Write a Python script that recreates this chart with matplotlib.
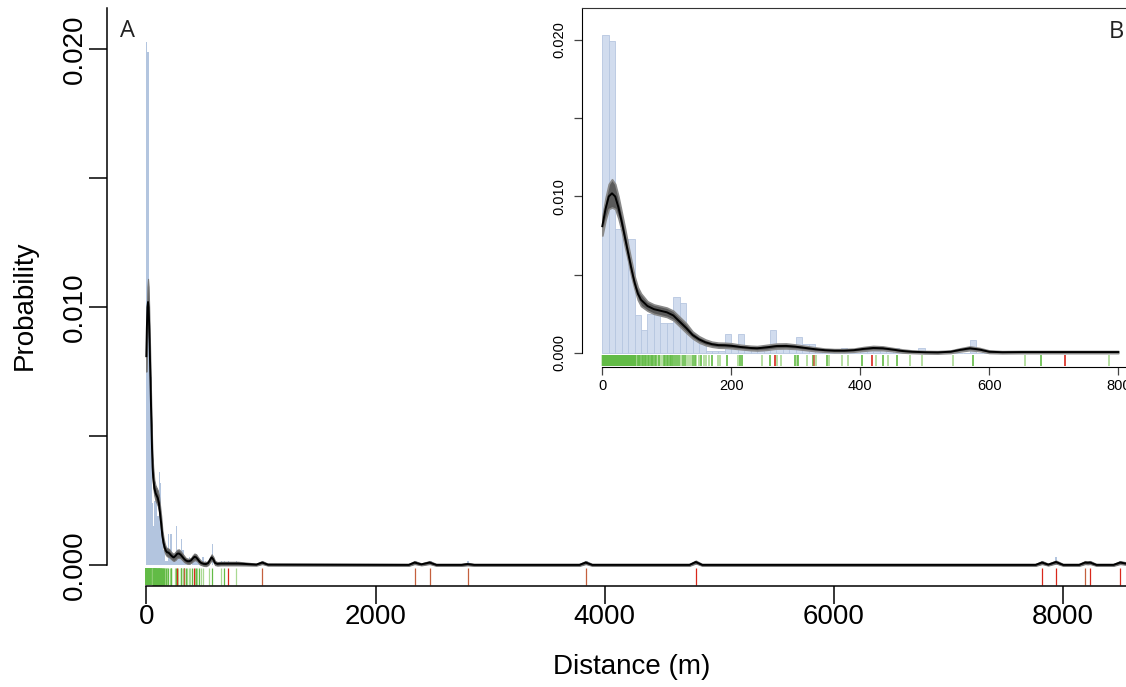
import numpy as np
import matplotlib.pyplot as plt

plt.rcParams['font.family'] = ['Liberation Sans', 'DejaVu Sans']

# histogram of distances (10 m bins, 0-800 m), probability density
bin_width = 10
hist_heights = [
    0.0203, 0.0199, 0.0079, 0.0073, 0.0073, 0.0024, 0.0015, 0.0025, 0.0025, 0.0019,
    0.0019, 0.0036, 0.0032, 0.0013, 0.0010, 0.0006, 0.00015, 0.00015, 0.00015, 0.0012,
    0.0003, 0.0012, 0.0004, 0.0004, 0.00015, 0.0003, 0.0015, 0.0004, 0.0004, 0.0004,
    0.0010, 0.0006, 0.0006, 0.0003, 0.00015, 0.00015, 0.0, 0.0003, 0.00015, 0.0,
    0.00015, 0.0003, 0.00015, 0.0003, 0.00015, 0.0003, 0.0, 0.00015, 0.0, 0.0003,
    0.0, 0.00015, 0.0, 0.0, 0.00015, 0.0, 0.0, 0.0008, 0.0, 0.0,
    0.0, 0.0, 0.0, 0.0, 0.0, 0.00015, 0.0, 0.0, 0.00015, 0.0,
    0.0, 0.00015, 0.0, 0.0, 0.0, 0.0, 0.0, 0.0, 0.00015, 0.0,
]
# sparse far bins (left edge, height)
far_bin_left = [1010, 2340, 2470, 2800, 3830, 4790, 7810, 7930, 8190, 8230, 8490]
far_bin_height = [0.00015, 0.00015, 0.00015, 0.00015, 0.00015, 0.00015, 0.00015,
                  0.0003, 0.00015, 0.00015, 0.00015]

# fitted density (black line) and spread of bootstrap curves (grey band)
dens_x = [0, 5, 10, 15, 20, 25, 30, 35, 40, 45, 50, 55, 60, 70, 80, 90, 100, 110, 120,
          130, 140, 150, 160, 170, 180, 190, 200, 215, 230, 240, 255, 270, 285, 300,
          315, 330, 345, 360, 375, 390, 405, 420, 435, 450, 465, 480, 500, 520, 540,
          555, 570, 585, 600, 620, 650, 700, 750, 800]
dens_y = [0.0081, 0.0092, 0.0100, 0.0102, 0.0100, 0.0093, 0.0084, 0.0074, 0.0064,
          0.0054, 0.0045, 0.0038, 0.0034, 0.0030, 0.0028, 0.0027, 0.0026, 0.0024,
          0.0020, 0.0016, 0.00115, 0.00087, 0.00068, 0.00056, 0.0005, 0.00049,
          0.00046, 0.00038, 0.00032, 0.0003, 0.00036, 0.00044, 0.00045, 0.0004,
          0.00032, 0.00024, 0.00018, 0.00015, 0.00015, 0.00018, 0.00026, 0.00032,
          0.0003, 0.00022, 0.00013, 0.00008, 0.00005, 0.00004, 0.00008, 0.0002,
          0.0003, 0.00022, 0.00008, 0.00005, 0.00006, 0.00006, 0.00006, 0.00006]
dens_spread = [0.0006, 0.0007, 0.0008, 0.0009, 0.0008, 0.0007, 0.0006, 0.0006, 0.0005,
               0.0005, 0.0004, 0.0004, 0.0004, 0.0003, 0.0003, 0.0003, 0.0003, 0.0003,
               0.0003, 0.0003, 0.00022, 0.0002, 0.00018, 0.00016, 0.00016, 0.00016,
               0.00016, 0.00014, 0.00014, 0.00014, 0.00016, 0.00016, 0.00016, 0.00014,
               0.00013, 0.00012, 0.0001, 0.0001, 0.0001, 0.0001, 0.00012, 0.00013,
               0.00012, 0.0001, 0.0001, 0.00008, 0.00008, 0.00008, 0.00008, 0.0001,
               0.00012, 0.0001, 0.00008, 0.00007, 0.00007, 0.00007, 0.00007, 0.00007]

# far tail of the density (main panel only)
far_x = [960, 1011, 1060, 2290, 2341, 2400, 2472, 2530, 2750, 2804, 2860, 3780, 3834,
         3890, 4740, 4795, 4850, 7760, 7816, 7870, 7938, 8000, 8140, 8192, 8214, 8236,
         8290, 8440, 8498, 8549]
far_y = [0.00002, 0.0001, 0.00002, 0.00001, 0.0001, 0.00003, 0.0001, 0.00001, 0.00001,
         0.00004, 0.00001, 0.00001, 0.0001, 0.00001, 0.00001, 0.00012, 0.00001, 0.00001,
         0.0001, 0.00002, 0.00012, 0.00001, 0.00001, 0.0001, 0.00009, 0.0001, 0.00001,
         0.00001, 0.0001, 0.00006]
far_spread = [0.00004, 0.00006, 0.00004, 0.00004, 0.00006, 0.00004, 0.00006, 0.00004,
              0.00004, 0.00005, 0.00004, 0.00004, 0.00006, 0.00004, 0.00004, 0.00006,
              0.00004, 0.00004, 0.00006, 0.00004, 0.00006, 0.00004, 0.00004, 0.00006,
              0.00006, 0.00006, 0.00004, 0.00004, 0.00006, 0.00005]

# observed distances (rug)
rug_green_dense = [0.3, 1.4, 2.6, 3.5, 4.7, 5.9, 7.1, 8.2, 9.4, 10.5, 11.8, 12.9, 14.1,
                   15.3, 16.4, 17.6, 18.8, 19.9, 21.2, 22.3, 23.5, 24.6, 25.9, 27.0,
                   28.3, 29.4, 30.6, 31.8, 32.9, 34.2, 35.3, 36.5, 37.7, 38.9, 40.1,
                   41.2, 42.4, 43.6, 44.8, 46.0, 47.1, 48.3, 49.5, 50.7, 51.9, 53.0]
rug_green_dark = [55, 57, 59, 61, 63, 66, 68, 71, 73, 75, 77, 79, 81, 84, 88, 95, 97,
                  100, 102, 105, 107, 110, 113, 116, 119, 125, 128, 140, 143, 153, 170,
                  193, 213, 216, 260, 299, 304, 326, 348, 403, 435, 457, 574, 680]
rug_green_light = [54, 65, 86, 90, 92, 108, 122, 131, 135, 138, 145, 150, 158, 161, 165,
                   180, 182, 211, 247, 271, 277, 302, 317, 332, 351, 371, 381, 425, 443,
                   477, 495, 543, 655, 786]
rug_red = [268, 418, 717, 4795, 7816, 7938, 8236, 8498]
rug_red_brown = [329, 1011, 2341, 2472, 2804, 3834, 8192]

HIST_MAIN = '#b3c5df'
HIST_INSET = '#d1dcee'
GREEN_DARK = '#62bb46'
GREEN_LIGHT = '#a9d992'
RED = '#d8281c'
BROWN = '#c4603e'

bin_left = [i * bin_width for i in range(len(hist_heights))]
dens_lo = [y - s for y, s in zip(dens_y, dens_spread)]
dens_hi = [y + s for y, s in zip(dens_y, dens_spread)]
all_x = dens_x + far_x
all_y = dens_y + far_y
all_lo = dens_lo + [y - s for y, s in zip(far_y, far_spread)]
all_hi = dens_hi + [y + s for y, s in zip(far_y, far_spread)]

W, H = 1126, 687
fig = plt.figure(figsize=(W / 100, H / 100), dpi=100)


def px_axes(left, top, right, bottom):
    return fig.add_axes([left / W, 1 - bottom / H, (right - left) / W, (bottom - top) / H])


def draw_rug(ax, y0, y1, lw):
    ax.vlines(rug_green_dense, y0, y1, color=GREEN_DARK, lw=lw * 1.4)
    ax.vlines(rug_green_light, y0, y1, color=GREEN_LIGHT, lw=lw)
    ax.vlines(rug_green_dark, y0, y1, color=GREEN_DARK, lw=lw)
    ax.vlines(rug_red_brown, y0, y1, color=BROWN, lw=lw)
    ax.vlines(rug_red, y0, y1, color=RED, lw=lw)


# Main panel
ax = px_axes(107, 8, 1126, 586)
ax.set_xlim(-343, 8549)
ax.set_ylim(-0.00081, 0.0216)
ax.bar(bin_left, hist_heights, width=bin_width, align='edge', color=HIST_MAIN, lw=0)
ax.bar(far_bin_left, far_bin_height, width=bin_width * 2, align='edge', color=HIST_MAIN, lw=0)
ax.fill_between(all_x, all_lo, all_hi, color='#5e5e5e', lw=0.8, edgecolor='#777777')
ax.plot(all_x, all_y, color='black', lw=1.4)
draw_rug(ax, -0.00011, -0.00077, 0.9)

for s in ['top', 'right']:
    ax.spines[s].set_visible(False)
ax.spines['left'].set_bounds(0, 0.0216)
ax.spines['bottom'].set_bounds(0, 8549)
for s in ['left', 'bottom']:
    ax.spines[s].set_linewidth(1.1)
ax.set_xticks([0, 2000, 4000, 6000, 8000])
ax.set_yticks([0, 0.005, 0.010, 0.015, 0.020])
ax.set_yticklabels(['0.000', '', '0.010', '', '0.020'], rotation=90, va='center')
ax.tick_params(axis='both', labelsize=20, length=13, width=1.1)
ax.tick_params(axis='y', pad=1)
ax.tick_params(axis='x', pad=0)
fig.text(632 / W, 1 - 667 / H, 'Distance (m)', fontsize=20, ha='center', va='center')
fig.text(25 / W, 1 - 305 / H, 'Probability', fontsize=20, ha='center', va='center',
         rotation=90)
fig.text(127 / W, 1 - 31 / H, 'A', fontsize=17, ha='center', va='center',
         family=['Open Sans', 'DejaVu Sans'], color='#222222')

# Inset panel (zoom on 0-800 m)
ins = px_axes(582, 8, 1126, 367)
ins.set_facecolor('white')
ins.set_xlim(-31.5, 812)
ins.set_ylim(-0.000895, 0.02204)
ins.bar(bin_left, hist_heights, width=bin_width, align='edge', color=HIST_INSET,
        edgecolor='#b6c6e0', lw=0.6)
ins.fill_between(dens_x, dens_lo, dens_hi, color='#5a5a5a', lw=1.2, edgecolor='#8a8a8a')
ins.plot(dens_x, dens_y, color='black', lw=1.4)
draw_rug(ins, -0.00013, -0.00083, 1.2)

ins.spines['right'].set_visible(False)
ins.spines['top'].set_color('#333333')
ins.spines['left'].set_bounds(0, 0.02204)
ins.spines['bottom'].set_bounds(0, 812)
ins.set_xticks([0, 200, 400, 600, 800])
ins.set_yticks([0, 0.005, 0.010, 0.015, 0.020])
ins.set_yticklabels(['0.000', '', '0.010', '', '0.020'], rotation=90, va='center')
ins.tick_params(axis='both', labelsize=10.5, length=6, width=0.9, color='#444444', pad=3)
ins.tick_params(axis='y', pad=5)
fig.text(1116 / W, 1 - 32 / H, 'B', fontsize=17, ha='center', va='center',
         family=['Open Sans', 'DejaVu Sans'], color='#222222')

fig.savefig('out.png', dpi=100)
